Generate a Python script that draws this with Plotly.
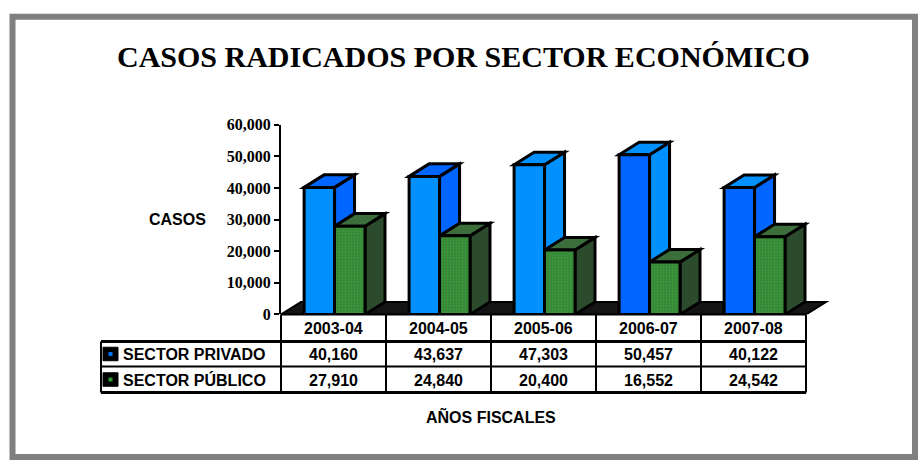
import plotly.graph_objects as go

# ---------------- data ----------------
categories = ["2003-04", "2004-05", "2005-06", "2006-07", "2007-08"]
sector_privado = [40160, 43637, 47303, 50457, 40122]
sector_publico = [27910, 24840, 20400, 16552, 24542]
series_names = ["SECTOR PRIVADO", "SECTOR PÚBLICO"]
y_ticks = [0, 10000, 20000, 30000, 40000, 50000, 60000]
title_text = "CASOS RADICADOS POR SECTOR ECONÓMICO"
y_title = "CASOS"
x_title = "AÑOS FISCALES"

# ---------------- styles ----------------
front_blue = ["#0091ff", "#0091ff", "#0091ff", "#0066ff", "#0066ff"]
side_blue = ["#0066ff", "#0066ff", "#0091ff", "#0091ff", "#0066ff"]
top_blue = ["#0066ff", "#0066ff", "#0091ff", "#0091ff", "#0091ff"]
green_bg = "#3a7f3a"
green_fg = "#33cc33"
green_side = "#2c4a2c"
green_top = "#3b6e3b"

W, H = 920, 469
def px(x):
    return x / W
def py(y):
    return 1 - y / H

X0, X1 = 281, 840          # x-axis domain in pixels
CAT_W = 105                # pixels per category
Y_TOP, Y_BOT = 121, 318    # y-axis domain in pixels
YMAX = 60000
x_range = [-0.5, -0.5 + (X1 - X0) / CAT_W]
DX = 20 / CAT_W
DY = 13 * YMAX / (Y_BOT - Y_TOP)

B_OFF, B_W = -0.28, 0.29
G_OFF, G_W = 0.01, 0.29
LW = 3

xs = list(range(len(categories)))
FONT_S = "Liberation Sans"
FONT_R = "Liberation Serif"

fig = go.Figure()
fig.add_trace(go.Bar(
    x=xs, y=sector_privado, offset=B_OFF, width=B_W, name=series_names[0],
    marker=dict(color=front_blue, line=dict(color="black", width=LW)),
    showlegend=False, hoverinfo="y"))
fig.add_trace(go.Bar(
    x=xs, y=sector_publico, offset=G_OFF, width=G_W, name=series_names[1],
    marker=dict(color=green_bg, line=dict(color="black", width=LW),
                pattern=dict(shape=".", fgcolor=green_fg, bgcolor=green_bg,
                             size=3, solidity=0.4)),
    showlegend=False, hoverinfo="y"))

shapes = []
# floor
nC = len(categories)
shapes.append(dict(type="path", xref="x", yref="y", layer="below",
                   path=f"M -0.5,0 L {-0.5+DX},{DY} L {nC-0.5+DX},{DY} L {nC-0.5},0 Z",
                   fillcolor="#151515", line=dict(color="black", width=2)))

def faces(i, off, w, v, side_c, top_c):
    left = i + off
    right = i + off + w
    side = f"M {right},0 L {right+DX},{DY} L {right+DX},{v+DY} L {right},{v} Z"
    top = f"M {left},{v} L {left+DX},{v+DY} L {right+DX},{v+DY} L {right},{v} Z"
    return [
        dict(type="path", xref="x", yref="y", layer="below", path=side,
             fillcolor=side_c, line=dict(color="black", width=LW)),
        dict(type="path", xref="x", yref="y", layer="below", path=top,
             fillcolor=top_c, line=dict(color="black", width=LW)),
    ]

for i in xs:
    shapes += faces(i, B_OFF, B_W, sector_privado[i], side_blue[i], top_blue[i])
    shapes += faces(i, G_OFF, G_W, sector_publico[i], green_side, green_top)

# outer gray frame
shapes.append(dict(type="rect", xref="paper", yref="paper",
                   x0=px(12.5), x1=px(915), y0=py(9), y1=py(466),
                   line=dict(color="#808080", width=6)))

# table geometry
T_LEFT = 101
ROW_Y = [318, 346, 372, 399]
LINE = dict(color="black", width=2)
shapes.append(dict(type="line", xref="paper", yref="paper",
                   x0=px(X0), x1=px(X0 + nC * CAT_W), y0=py(318), y1=py(318), line=LINE))
for yy, wdt in zip(ROW_Y[1:], [3, 2, 3]):
    shapes.append(dict(type="line", xref="paper", yref="paper",
                       x0=px(T_LEFT), x1=px(X0 + nC * CAT_W), y0=py(yy), y1=py(yy),
                       line=dict(color="black", width=wdt)))
shapes.append(dict(type="line", xref="paper", yref="paper",
                   x0=px(X0), x1=px(X0), y0=py(318), y1=py(399), line=LINE))
shapes.append(dict(type="line", xref="paper", yref="paper",
                   x0=px(T_LEFT), x1=px(T_LEFT), y0=py(346), y1=py(399), line=LINE))
for i in xs:
    shapes.append(dict(type="line", xref="x", yref="paper",
                       x0=i + 0.5, x1=i + 0.5, y0=py(318), y1=py(399), line=LINE))

# legend keys in table
key_colors = ["#0077ff", "#2f9e2f"]
for r, col in enumerate(key_colors):
    cy = (ROW_Y[r + 1] + ROW_Y[r + 2]) / 2
    shapes.append(dict(type="rect", xref="paper", yref="paper",
                       x0=px(103), x1=px(118), y0=py(cy + 7), y1=py(cy - 7),
                       fillcolor="black", line=dict(color="black", width=1)))
    shapes.append(dict(type="rect", xref="paper", yref="paper",
                       x0=px(108.5), x1=px(112.5), y0=py(cy + 2), y1=py(cy - 2),
                       fillcolor=col, line=dict(width=0)))

annotations = []
annotations.append(dict(text=title_text, xref="paper", yref="paper", x=px(463), y=py(50),
                        showarrow=False, xanchor="center", yanchor="middle",
                        font=dict(family=FONT_R, size=30, color="black", weight="bold")))
annotations.append(dict(text=y_title, xref="paper", yref="paper", x=px(177), y=py(219),
                        showarrow=False, xanchor="center", yanchor="middle",
                        font=dict(family=FONT_S, size=16, color="black", weight="bold")))
annotations.append(dict(text=x_title, xref="paper", yref="paper", x=px(491), y=py(424),
                        showarrow=False, xanchor="center", yanchor="middle",
                        font=dict(family=FONT_S, size=16, color="black", weight="bold")))
tfont = dict(family=FONT_S, size=16, color="black", weight="bold")
for i, c in enumerate(categories):
    annotations.append(dict(text=c, xref="x", yref="paper", x=i, y=py((ROW_Y[0] + ROW_Y[1]) / 2 + 1),
                            showarrow=False, xanchor="center", yanchor="middle", font=tfont))
    for r, vals in enumerate([sector_privado, sector_publico]):
        annotations.append(dict(text=f"{vals[i]:,}", xref="x", yref="paper", x=i,
                                y=py((ROW_Y[r + 1] + ROW_Y[r + 2]) / 2 + 1),
                                showarrow=False, xanchor="center", yanchor="middle", font=tfont))
for r, name in enumerate(series_names):
    annotations.append(dict(text=name, xref="paper", yref="paper", x=px(121),
                            y=py((ROW_Y[r + 1] + ROW_Y[r + 2]) / 2 + 1),
                            showarrow=False, xanchor="left", yanchor="middle", font=tfont))

fig.update_layout(
    width=W, height=H, margin=dict(l=0, r=0, t=0, b=0),
    paper_bgcolor="white", plot_bgcolor="rgba(0,0,0,0)",
    barmode="overlay", showlegend=False,
    xaxis=dict(domain=[px(X0), px(X1)], range=x_range, visible=False, fixedrange=True),
    yaxis=dict(domain=[py(Y_BOT), py(Y_TOP)], range=[0, YMAX], tickvals=y_ticks,
               tickformat=",", ticks="outside", ticklen=5, tickwidth=2, tickcolor="black",
               showline=True, linewidth=2, linecolor="black", showgrid=False, zeroline=False,
               tickfont=dict(family=FONT_R, size=16, color="black", weight="bold"),
               fixedrange=True),
    shapes=shapes, annotations=annotations,
)

post = ("var gd=document.getElementById('{plot_id}');"
        "document.documentElement.style.margin='0';document.body.style.margin='0';"
        "document.documentElement.style.overflow='hidden';document.body.style.overflow='hidden';"
        "gd.style.position='fixed';gd.style.left='0px';gd.style.top='0px';")
fig.write_html("out.html", config={"displayModeBar": False}, post_script=post)
